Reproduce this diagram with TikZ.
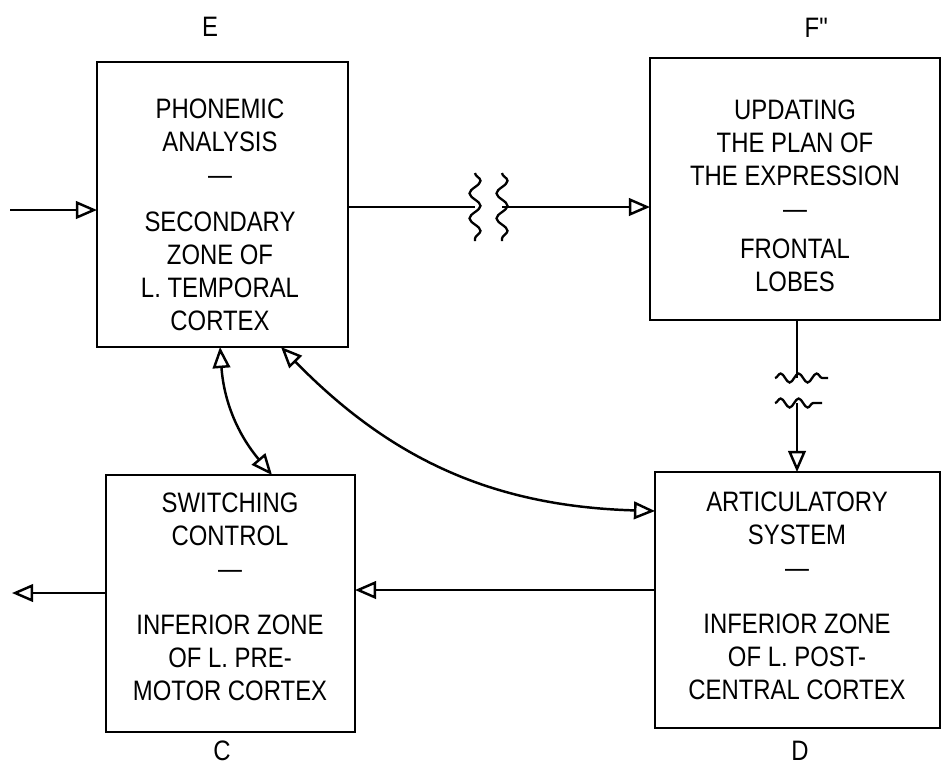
\documentclass[tikz,border=0pt]{standalone}
\usepackage{fontspec}
\setmainfont{Liberation Sans}[FakeStretch=0.85]
\usetikzlibrary{arrows.meta,decorations.pathmorphing}

\begin{document}
\begin{tikzpicture}[
    x=0.02cm, y=-0.02cm,
    line width=1.4pt,
    every node/.style={font=\fontsize{16}{18.8}\selectfont},
    box/.style={draw, rectangle, inner sep=0pt, outer sep=0pt},
    boxtext/.style={align=center, inner sep=0pt},
    arr/.style={-{Triangle[open, length=12pt, width=10pt]}},
    darr/.style={{Triangle[open, length=12pt, width=10pt]}-{Triangle[open, length=12pt, width=10pt]}},
    wiggle/.style={line width=1.3pt, decorate, decoration={snake, amplitude=0.11cm, segment length=0.5cm}}
]
    \useasboundingbox (0,0) rectangle (943,769);

    % --- THE FOUR BOXES ---
    \node[box, minimum width=5.02cm, minimum height=5.7cm] (E) at (222.5,204.5) {};
    \node[box, minimum width=5.8cm, minimum height=5.24cm] (F) at (795,189) {};
    \node[box, minimum width=4.98cm, minimum height=5.14cm] (C) at (230.5,603.5) {};
    \node[box, minimum width=5.7cm, minimum height=5.12cm] (D) at (797.5,600) {};

    % box contents
    \node[boxtext] (Etxt) at (220,215)
        {PHONEMIC\\ANALYSIS\\---\\[8pt]SECONDARY\\ZONE OF\\L. TEMPORAL\\CORTEX};
    \node[boxtext] (Ftxt) at (795,196)
        {UPDATING\\THE PLAN OF\\THE EXPRESSION\\---\\[4pt]FRONTAL\\LOBES};
    \node[boxtext] (Ctxt) at (230,597)
        {SWITCHING\\CONTROL\\---\\[13pt]INFERIOR ZONE\\OF L. PRE-\\MOTOR CORTEX};
    \node[boxtext] (Dtxt) at (797,596)
        {ARTICULATORY\\SYSTEM\\---\\[13pt]INFERIOR ZONE\\OF L. POST-\\CENTRAL CORTEX};

    % Box letters
    \node (lblE) at (210,27) {E};
    \node (lblF) at (817,28) {F\textquotedbl};
    \node (lblC) at (222,751) {C};
    \node (lblD) at (800,751) {D};

    % --- CONNECTORS ---
    \coordinate (in)  at (10,210);
    \coordinate (out) at (12,593);
    \coordinate (bk1) at (475,207);  % break in E -> F
    \coordinate (bk2) at (502,207);
    \coordinate (bk3) at (797,378);  % break in F -> D
    \coordinate (bk4) at (797,403);
    \coordinate (dc)  at (500,590);

    \draw[arr] (in) -- (E.west |- in);
    \draw (E.east |- bk1) -- (bk1);
    \draw[arr] (bk2) -- (F.west |- bk2);
    \draw (F.south -| bk3) -- (bk3);
    \draw[arr] (bk4) -- (D.north -| bk4);
    \draw[arr] (D.west |- dc) -- (C.east |- dc);
    \draw[arr] (C.west |- out) -- (out);

    % wavy break marks
    \draw[wiggle] ([yshift=0.68cm]bk1) -- ([yshift=-0.68cm]bk1);
    \draw[wiggle] ([yshift=0.68cm]bk2) -- ([yshift=-0.68cm]bk2);
    \draw[wiggle, decoration={segment length=0.36cm, amplitude=0.09cm}] ([xshift=-0.44cm]bk3) -- ([xshift=0.62cm]bk3);
    \draw[wiggle, decoration={segment length=0.36cm, amplitude=0.09cm}] ([xshift=-0.44cm]bk4) -- ([xshift=0.5cm]bk4);

    % two-way links
    \draw[darr] (E.south -| 220,0) to[bend right=18] (C.north -| 272,0);
    \draw[darr] (E.south -| 281,0) to[bend right=22] (D.west |- 0,511);

\end{tikzpicture}
\end{document}
